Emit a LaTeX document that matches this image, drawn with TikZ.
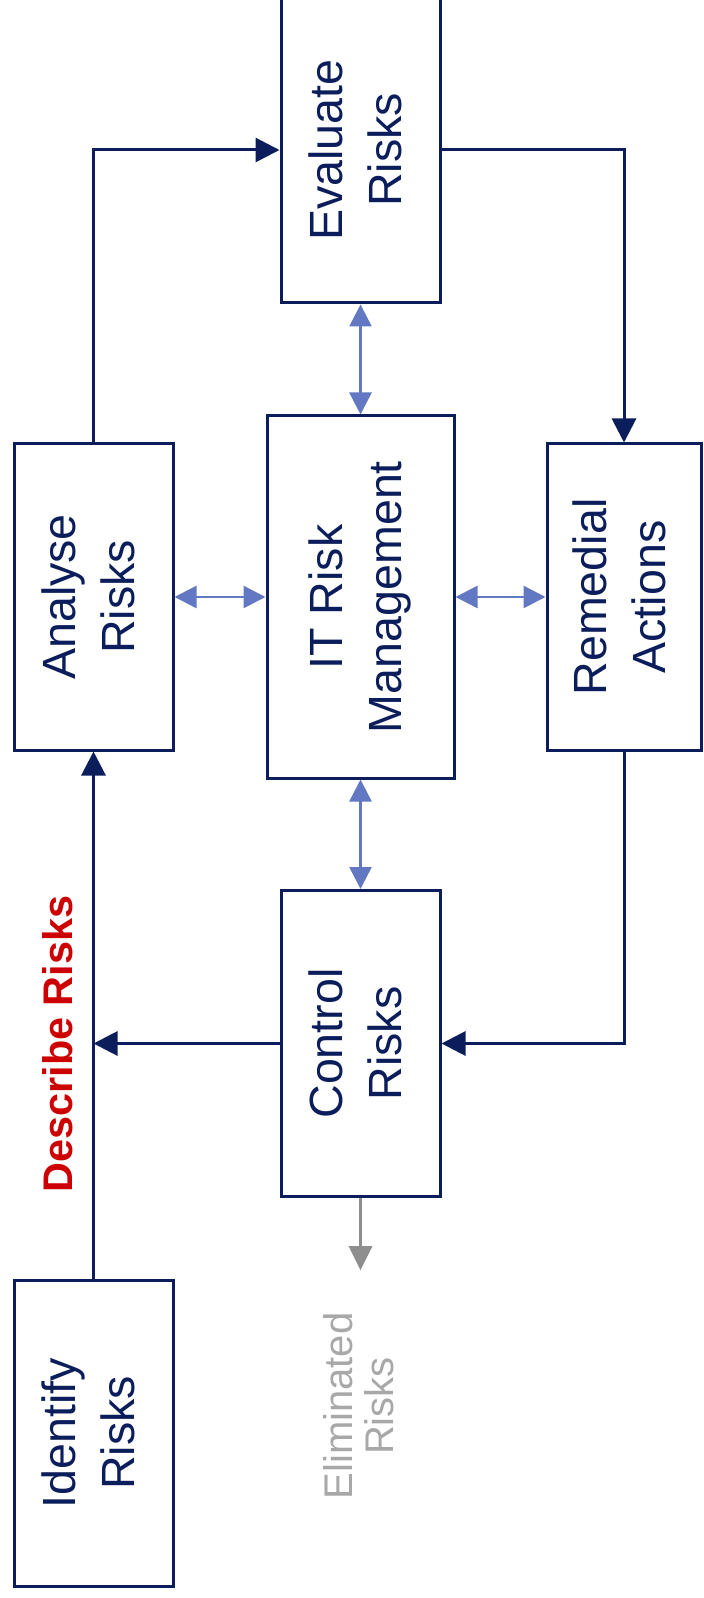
\documentclass[tikz,border=0pt]{standalone}
\usepackage{fontspec}
\setmainfont{Liberation Sans}
\usepackage{graphicx}
\usetikzlibrary{arrows.meta}
\definecolor{navy}{HTML}{0B1E5B}
\definecolor{cornflower}{HTML}{6278C2}
\definecolor{ash}{HTML}{8E8E8E}
\definecolor{pale}{HTML}{A8A8A8}
\definecolor{alarm}{HTML}{CC0000}
\newcommand{\vlabel}[1]{\rotatebox{90}{\begin{tabular}{@{}c@{}}#1\end{tabular}}}

\begin{document}
\begin{tikzpicture}[x=0.5pt, y=-0.5pt,
  font=\fontsize{23.3pt}{29.5pt}\selectfont,
  box/.style={draw=navy, line width=1.5pt, text=navy, inner sep=0pt,
              minimum width=79.5pt, minimum height=153pt},
  flow/.style={-{Triangle[length=12pt,width=12pt]}, line width=1.5pt, draw=navy},
  link/.style={{Triangle[length=11pt,width=11pt]}-{Triangle[length=11pt,width=11pt]},
               line width=1.25pt, draw=cornflower},
  drop/.style={-{Triangle[length=12pt,width=11.5pt]}, line width=1.4pt, draw=ash}]
  \useasboundingbox (0,0) rectangle (704,1598);
  \node[box] (evaluate) at (360.5,150)   {\vlabel{Evaluate\\Risks}};
  \node[box] (analyse)  at (93.5,597)    {\vlabel{Analyse\\Risks}};
  \node[box, minimum width=93.5pt, minimum height=181pt] (itrm) at (360.5,597) {\vlabel{IT Risk\\Management}};
  \node[box, minimum width=77pt] (remedial) at (624,597) {\vlabel{Remedial\\Actions}};
  \node[box] (control)  at (360.5,1043.5) {\vlabel{Control\\Risks}};
  \node[box] (identify) at (93.5,1433)   {\vlabel{Identify\\Risks}};
  \node[text=pale, inner sep=0pt, font=\fontsize{20pt}{20.5pt}\selectfont] (elim) at (364.5,1406) {\vlabel{Eliminated\\Risks}};
  \node[text=alarm, font=\fontsize{20.7pt}{24pt}\selectfont\bfseries] (describe) at (63,1044) {\vlabel{Describe Risks}};
  \draw[flow] (identify) -- (analyse);
  \draw[flow] (control) -- (control -| identify);
  \draw[flow] (analyse) |- (evaluate);
  \draw[flow] (evaluate) -| (remedial);
  \draw[flow] (remedial) |- (control);
  \draw[link] (evaluate) -- (itrm);
  \draw[link] (analyse) -- (itrm);
  \draw[link] (itrm) -- (remedial);
  \draw[link] (itrm) -- (control);
  \draw[drop, shorten >=21pt] (control.south) -- (control.south |- elim.north);
\end{tikzpicture}
\end{document}
